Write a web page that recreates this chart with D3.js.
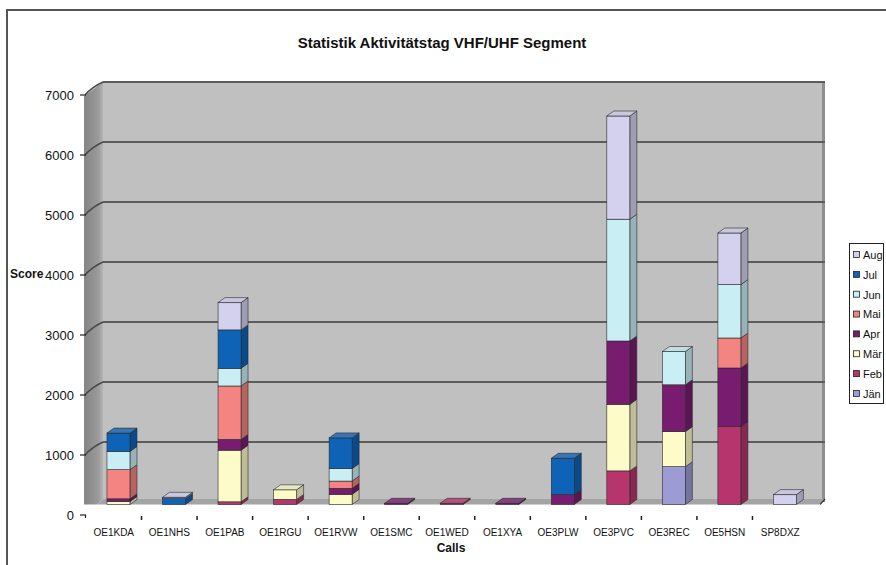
<!DOCTYPE html>
<html>
<head>
<meta charset="utf-8">
<script src="https://cdnjs.cloudflare.com/ajax/libs/d3/7.8.5/d3.min.js"></script>
<style>
  body { margin: 0; background: #fff; }
  text { font-family: "Liberation Sans", Arial, sans-serif; fill: #111; }
</style>
</head>
<body>
<svg width="886" height="565"></svg>
<script>
var calls = ["OE1KDA","OE1NHS","OE1PAB","OE1RGU","OE1RVW","OE1SMC","OE1WED","OE1XYA","OE3PLW","OE3PVC","OE3REC","OE5HSN","SP8DXZ"];
var months = ["Jän","Feb","Mär","Apr","Mai","Jun","Jul","Aug"];

// score per call, one array per month
var jan = [0, 0, 0, 0, 0, 0, 0, 0, 0, 0, 630, 0, 0];
var feb = [0, 0, 45, 85, 0, 0, 20, 0, 0, 560, 0, 1300, 0];
var mar = [50, 0, 860, 160, 170, 0, 0, 0, 0, 1110, 585, 0, 0];
var apr = [45, 0, 180, 0, 100, 20, 0, 20, 165, 1055, 780, 975, 0];
var mai = [485, 0, 890, 0, 120, 0, 0, 0, 0, 0, 0, 500, 0];
var jun = [305, 0, 295, 0, 210, 0, 0, 0, 0, 2030, 555, 890, 0];
var jul = [305, 100, 640, 0, 510, 0, 0, 0, 605, 0, 0, 0, 0];
var aug = [0, 20, 455, 0, 0, 0, 0, 0, 0, 1720, 0, 860, 165];

var yTicks = [0, 1000, 2000, 3000, 4000, 5000, 6000, 7000];
var colors = ["#9d9bd4", "#b8346c", "#fdfbc8", "#781c70", "#f48481", "#c9eef3", "#0f63b7", "#d3d1ee"];

var series = [jan, feb, mar, apr, mai, jun, jul, aug];
var rows = calls.map(function(c, i) {
  var r = {call: c};
  months.forEach(function(m, j) { r[m] = series[j][i]; });
  return r;
});

var svg = d3.select("svg");

// depth of the 3d box (front axis -> back wall)
var DX = 17, DY = -13;
var barW = 23, barDX = 7, barDY = -5;

var x = d3.scaleBand().domain(calls).range([86, 808]);
var y = d3.scaleLinear().domain([0, 7000]).range([515, 95]);
var yBar = function(v) { return y(v) - 10.5; };

// outer frame
svg.append("path")
  .attr("d", "M7,566 L7,10 L887,10")
  .attr("fill", "none").attr("stroke", "#555").attr("stroke-width", 2);

svg.append("text")
  .attr("x", 442).attr("y", 48)
  .attr("text-anchor", "middle")
  .style("font-size", "15px").style("font-weight", "bold")
  .text("Statistik Aktivitätstag VHF/UHF Segment");

var x0 = x.range()[0], x1 = x.range()[1];

// back wall
svg.append("rect")
  .attr("x", x0 + DX).attr("y", y(7000) + DY)
  .attr("width", x1 - x0).attr("height", y(0) - y(7000))
  .attr("fill", "#c0c0c0");
svg.append("line")
  .attr("x1", x1 + DX - 1.5).attr("x2", x1 + DX - 1.5)
  .attr("y1", y(7000) + DY).attr("y2", y(0) + DY)
  .attr("stroke", "#8e8e8e").attr("stroke-width", 3);

// side wall
var sideGrad = svg.append("defs").append("linearGradient")
  .attr("id", "side").attr("x1", 0).attr("x2", 1).attr("y1", 0).attr("y2", 0);
sideGrad.append("stop").attr("offset", 0).attr("stop-color", "#858585");
sideGrad.append("stop").attr("offset", 0.75).attr("stop-color", "#9a9a9a");
sideGrad.append("stop").attr("offset", 1).attr("stop-color", "#b4b4b4");

svg.append("polygon")
  .attr("points", [[x0 - 2, y(7000) + 1], [x0 + DX, y(7000) + DY], [x0 + DX, y(0) + DY - 3], [x0 + 11, yBar(0)], [x0 - 2, yBar(0)]].join(" "))
  .attr("fill", "url(#side)");

// floor
svg.append("polygon")
  .attr("points", [[x0 + 11, yBar(0)], [x1 + 11, yBar(0)], [x1 + DX, y(0) + DY - 3], [x0 + DX, y(0) + DY - 3]].join(" "))
  .attr("fill", "#a4a4a4");
svg.append("line")
  .attr("x1", x1 + 12).attr("y1", yBar(0))
  .attr("x2", x1 + DX).attr("y2", y(0) + DY - 3)
  .attr("stroke", "#333").attr("stroke-width", 1.2);

// gridlines on back wall and side wall
var grid = svg.append("g");
grid.selectAll(".gb")
  .data(yTicks.filter(function(d) { return d > 0; }))
  .enter().append("line")
  .attr("x1", x0 + DX).attr("x2", x1 + DX)
  .attr("y1", function(d) { return y(d) + DY; })
  .attr("y2", function(d) { return y(d) + DY; })
  .attr("stroke", "#5c5c5c").attr("stroke-width", 2);
grid.selectAll(".gs")
  .data(yTicks.filter(function(d) { return d > 0; }))
  .enter().append("path")
  .attr("d", function(d) {
    return "M" + (x0 - 1) + "," + y(d) + " Q" + (x0 + 6) + "," + (y(d) - 8) + " " + (x0 + DX) + "," + (y(d) + DY);
  })
  .attr("fill", "none").attr("stroke", "#4a4a4a").attr("stroke-width", 1.5);

// y axis labels + ticks
var yAxis = svg.append("g");
yAxis.selectAll("text").data(yTicks).enter().append("text")
  .attr("x", 74).attr("y", function(d) { return y(d); })
  .attr("dy", "0.35em").attr("text-anchor", "end")
  .style("font-size", "13px")
  .text(function(d) { return d; });
yAxis.selectAll("line").data(yTicks).enter().append("line")
  .attr("x1", 80).attr("x2", 86)
  .attr("y1", function(d) { return y(d); })
  .attr("y2", function(d) { return y(d); })
  .attr("stroke", "#222").attr("stroke-width", 1.2);
yAxis.append("line")
  .attr("x1", 85.5).attr("x2", 85.5).attr("y1", y(0)).attr("y2", y(0) + 3)
  .attr("stroke", "#222").attr("stroke-width", 1.2);

// x axis labels + ticks
var xAxis = svg.append("g");
xAxis.selectAll("text").data(calls).enter().append("text")
  .attr("x", function(d) { return x(d) + x.bandwidth() / 2; })
  .attr("y", 536)
  .attr("text-anchor", "middle")
  .style("font-size", "10px")
  .text(function(d) { return d; });
xAxis.selectAll("line").data(calls.slice(1)).enter().append("line")
  .attr("x1", function(d) { return x(d); })
  .attr("x2", function(d) { return x(d); })
  .attr("y1", 516).attr("y2", 520)
  .attr("stroke", "#222").attr("stroke-width", 1.5);

svg.append("text").attr("x", 10).attr("y", 278)
  .style("font-size", "12px").style("font-weight", "bold").text("Score");
svg.append("text").attr("x", 451).attr("y", 552).attr("text-anchor", "middle")
  .style("font-size", "12px").style("font-weight", "bold").text("Calls");

// stacked 3d bars
var stack = d3.stack().keys(months);
var stacked = stack(rows);
var color = d3.scaleOrdinal().domain(months).range(colors);

var bars = svg.append("g");
calls.forEach(function(c, i) {
  var bx = x(c) + (x.bandwidth() - barW) / 2 + 4.7;
  var segs = stacked.map(function(s) {
    return {key: s.key, y0: s[i][0], y1: s[i][1]};
  }).filter(function(s) { return s.y1 > s.y0; });
  if (!segs.length) return;
  var g = bars.append("g");

  g.selectAll(".side").data(segs).enter().append("polygon")
    .attr("points", function(d) {
      return [[bx + barW, yBar(d.y1)], [bx + barW + barDX, yBar(d.y1) + barDY],
              [bx + barW + barDX, yBar(d.y0) + barDY], [bx + barW, yBar(d.y0)]].join(" ");
    })
    .attr("fill", function(d) { return d3.color(color(d.key)).darker(0.8); })
    .attr("stroke", "#2a2a2a").attr("stroke-width", 0.6);

  g.selectAll(".front").data(segs).enter().append("rect")
    .attr("x", bx).attr("width", barW)
    .attr("y", function(d) { return yBar(d.y1); })
    .attr("height", function(d) { return yBar(d.y0) - yBar(d.y1); })
    .attr("fill", function(d) { return color(d.key); })
    .attr("stroke", "#2a2a2a").attr("stroke-width", 0.6);

  var top = segs[segs.length - 1];
  g.append("polygon")
    .attr("points", [[bx, yBar(top.y1)], [bx + barDX, yBar(top.y1) + barDY],
                     [bx + barW + barDX, yBar(top.y1) + barDY], [bx + barW, yBar(top.y1)]].join(" "))
    .attr("fill", d3.interpolateRgb(color(top.key), "#aaaaaa")(0.25))
    .attr("stroke", "#2a2a2a").attr("stroke-width", 0.6);
});

// legend
var legend = svg.append("g");
legend.append("rect")
  .attr("x", 849.5).attr("y", 243.5).attr("width", 34).attr("height", 160)
  .attr("fill", "#fff").attr("stroke", "#222");
var item = legend.selectAll(".item").data(months.slice().reverse()).enter().append("g")
  .attr("transform", function(d, i) { return "translate(853," + (255 + i * 19.85) + ")"; });
item.append("rect")
  .attr("x", 0.5).attr("y", -3.5).attr("width", 6).attr("height", 6)
  .attr("fill", function(d) { return color(d); })
  .attr("stroke", "#222").attr("stroke-width", 0.8);
item.append("text")
  .attr("x", 10).attr("dy", "0.35em")
  .style("font-size", "11px")
  .text(function(d) { return d; });
</script>
</body>
</html>
